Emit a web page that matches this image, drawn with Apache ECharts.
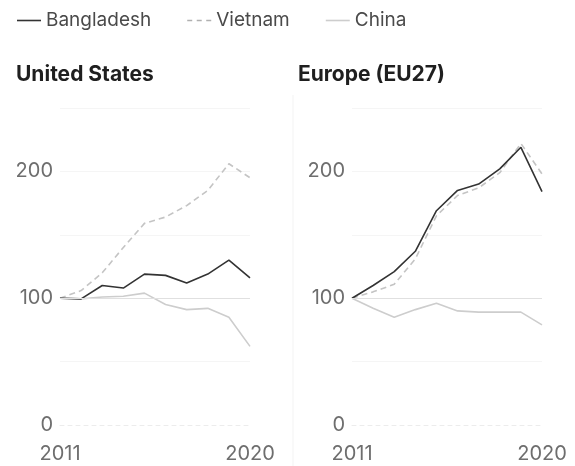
<!DOCTYPE html>
<html>
<head>
<meta charset="utf-8">
<script src="https://cdn.jsdelivr.net/npm/echarts@6/dist/echarts.min.js"></script>
<style>
  html, body { margin: 0; padding: 0; background: #fff; }
  #chart { width: 575px; height: 466px; }
</style>
</head>
<body>
<div id="chart"></div>
<script>
// Export index, 2011 = 100
const years = [2011, 2012, 2013, 2014, 2015, 2016, 2017, 2018, 2019, 2020];

const usBangladesh = [100, 99.5, 110, 108, 119, 118, 112, 119, 130, 116];
const usVietnam    = [100, 106, 120, 140, 159, 164, 173, 185, 206, 195];
const usChina      = [100, 99.5, 101, 101.5, 104, 95, 91, 92, 85, 62];

const euBangladesh = [100, 110, 121, 137, 169, 185, 190, 202, 219, 184];
const euVietnam    = [100, 105, 111, 131, 165, 181, 187, 199, 222, 198];
const euChina      = [100, 92, 85, 91, 96, 90, 89, 89, 89, 79];

const panelTitles = ['United States', 'Europe (EU27)'];
const xTickLabels = [2011, 2020];
const yTickLabels = [0, 100, 200];

const FONT = 'Inter, "Noto Sans", sans-serif';

function pairs(vals) {
  return years.map((y, i) => [y, vals[i]]);
}

const seriesStyle = {
  Bangladesh: { color: '#333333', width: 1.6, type: 'solid' },
  Vietnam:    { color: '#c4c4c4', width: 1.6, type: [6, 4] },
  China:      { color: '#cdcdcd', width: 1.6, type: 'solid' }
};

// legend keys: thin solid bar, or three short dashes
const solidKey = 'path://M0,0 L24,0 L24,1.6 L0,1.6 Z';
const dashKey = 'path://M0,0 h5 v1.6 h-5 Z M9.5,0 h5 v1.6 h-5 Z M19,0 h5 v1.6 h-5 Z';

function makeSeries(name, vals, idx) {
  const s = seriesStyle[name];
  return {
    name: name,
    type: 'line',
    xAxisIndex: idx,
    yAxisIndex: idx,
    data: pairs(vals),
    symbol: 'none',
    showSymbol: false,
    lineStyle: { color: s.color, width: s.width, type: s.type },
    itemStyle: { color: s.color },
    z: name === 'Bangladesh' ? 4 : 3,
    animation: false
  };
}

function refLine(idx) {
  return {
    type: 'line',
    xAxisIndex: idx,
    yAxisIndex: idx,
    data: [],
    silent: true,
    markLine: {
      silent: true,
      symbol: 'none',
      label: { show: false },
      lineStyle: { color: '#e0e0e0', width: 1, type: 'solid' },
      data: [{ yAxis: 100 }],
      animation: false
    },
    z: 1
  };
}

const gridLefts = [60, 352];

const option = {
  backgroundColor: '#fff',
  animation: false,
  textStyle: { fontFamily: FONT },
  legend: {
    orient: 'horizontal',
    left: 12,
    top: 6,
    itemWidth: 24,
    itemHeight: 1.6,
    itemGap: 36,
    textStyle: { fontFamily: FONT, fontSize: 19, color: '#4a4a4a' },
    data: [
      { name: 'Bangladesh', icon: solidKey, itemStyle: { color: seriesStyle.Bangladesh.color } },
      { name: 'Vietnam', icon: dashKey, itemStyle: { color: '#b0b0b0' } },
      { name: 'China', icon: solidKey, itemStyle: { color: seriesStyle.China.color } }
    ]
  },
  title: panelTitles.map((t, i) => ({
    text: t,
    left: i === 0 ? 11 : 293,
    top: 59,
    textStyle: { fontFamily: FONT, fontSize: 21, fontWeight: 'bold', color: '#1f1f1f' }
  })),
  graphic: [{
    type: 'line',
    shape: { x1: 293, y1: 95, x2: 293, y2: 466 },
    style: { stroke: '#f3f3f3', lineWidth: 1 }
  }],
  grid: gridLefts.map(l => ({ left: l, width: 190, top: 108, height: 317 })),
  xAxis: gridLefts.map((l, i) => ({
    type: 'value',
    gridIndex: i,
    min: 2011,
    max: 2020,
    interval: 9,
    axisLine: { show: true, lineStyle: { color: '#ececec', type: [4, 4] } },
    axisTick: { show: false },
    splitLine: { show: false },
    axisLabel: {
      margin: 19,
      fontSize: 20,
      color: '#6e6e6e',
      fontFamily: FONT,
      formatter: v => xTickLabels.includes(v) ? String(v) : ''
    }
  })),
  yAxis: gridLefts.map((l, i) => ({
    type: 'value',
    gridIndex: i,
    min: 0,
    max: 250,
    interval: 50,
    axisLine: { show: false },
    axisTick: { show: false },
    splitLine: {
      show: true,
      lineStyle: { color: ['transparent', '#f5f5f5', 'transparent', '#f5f5f5', '#f5f5f5', '#f5f5f5'], width: 1 }
    },
    axisLabel: {
      margin: 7,
      fontSize: 20,
      color: '#6e6e6e',
      fontFamily: FONT,
      formatter: v => yTickLabels.includes(v) ? String(v) : ''
    }
  })),
  series: [
    refLine(0),
    refLine(1),
    makeSeries('China', usChina, 0),
    makeSeries('Vietnam', usVietnam, 0),
    makeSeries('Bangladesh', usBangladesh, 0),
    makeSeries('China', euChina, 1),
    makeSeries('Vietnam', euVietnam, 1),
    makeSeries('Bangladesh', euBangladesh, 1)
  ]
};

const chart = echarts.init(document.getElementById('chart'), null, { renderer: 'canvas' });
chart.setOption(option);
</script>
</body>
</html>
